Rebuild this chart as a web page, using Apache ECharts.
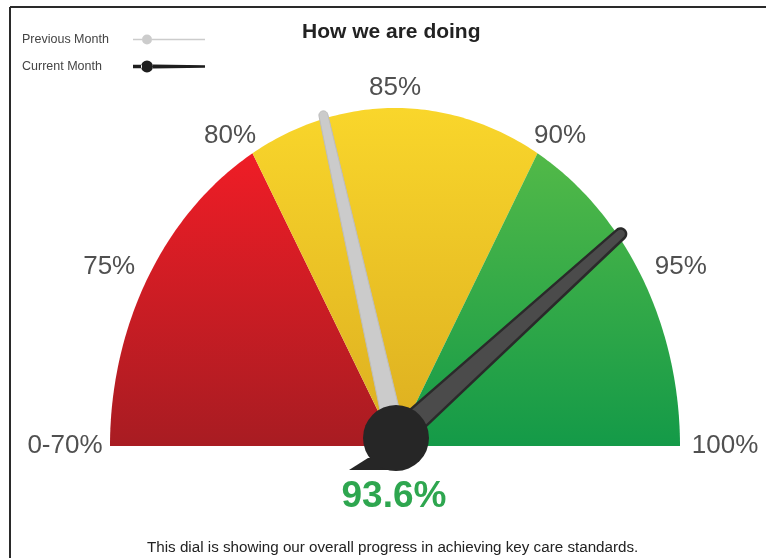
<!DOCTYPE html>
<html><head><meta charset="utf-8">
<script src="https://cdn.jsdelivr.net/npm/echarts@6/dist/echarts.min.js"></script>
<style>html,body{margin:0;padding:0;background:#fff}#c{width:766px;height:558px}</style>
</head><body><div id="c"></div>
<script>
// ---- data ----
const scaleMin = 70, scaleMax = 100;
const bandRanges = [[70, 80], [80, 90], [90, 100]];
const tickValues = [70, 75, 80, 85, 90, 95, 100];
const tickLabels = ['0-70%', '75%', '80%', '85%', '90%', '95%', '100%'];
const previousMonth = 82.6;
const currentMonth = 93.6;
const seriesNames = ['Previous Month', 'Current Month'];
const titleText = 'How we are doing';
const footerText = 'This dial is showing our overall progress in achieving key care standards.';

// ---- styles ----
const FONT = 'Liberation Sans, Arial, sans-serif';
const bandStops = [
  ['#ef1d26', '#a81c22'],
  ['#f9d62b', '#dcae20'],
  ['#52b948', '#149a48']
];
const G = echarts.graphic;
const grads = bandStops.map(s => new G.LinearGradient(0, 0, 0, 1, [{offset: 0, color: s[0]}, {offset: 1, color: s[1]}]));

function ang(v) { return Math.PI * (scaleMax - v) / (scaleMax - scaleMin); }
function pivotOf(api) { const c = api.coord([0, 0]); return [c[0] + 1, c[1] - 8]; }

function renderBand(params, api) {
  const a = api.value(0), b = api.value(1);
  const pts = [api.coord([0, 0])];
  const n = 80;
  for (let i = 0; i <= n; i++) {
    const t = ang(a + (b - a) * i / n);
    pts.push(api.coord([Math.cos(t), Math.sin(t)]));
  }
  return {type: 'polygon', shape: {points: pts}, style: {fill: grads[params.dataIndex], stroke: null}};
}

function needlePoints(api, v, w0, w1) {
  const t = ang(v);
  const p = pivotOf(api);
  const tip = api.coord([1.01 * Math.cos(t), 1.01 * Math.sin(t)]);
  const dx = tip[0] - p[0], dy = tip[1] - p[1];
  const L = Math.hypot(dx, dy), ux = dx / L, uy = dy / L, nx = -uy, ny = ux;
  const r0 = w0 / 2, r1 = w1 / 2;
  const pts = [[p[0] + nx * r0, p[1] + ny * r0], [tip[0] + nx * r1, tip[1] + ny * r1]];
  const base = Math.atan2(ny, nx);
  const steps = 14;
  const cross = nx * uy - ny * ux;
  const sgn = cross > 0 ? 1 : -1;
  for (let i = 1; i < steps; i++) {
    const th = base + sgn * Math.PI * i / steps;
    pts.push([tip[0] + Math.cos(th) * r1, tip[1] + Math.sin(th) * r1]);
  }
  pts.push([tip[0] - nx * r1, tip[1] - ny * r1]);
  pts.push([p[0] - nx * r0, p[1] - ny * r0]);
  return pts;
}

function renderPrev(params, api) {
  return {type: 'polygon', shape: {points: needlePoints(api, api.value(0), 20, 9)},
    style: {fill: '#cbcbcb', stroke: '#bdbdbd', lineWidth: 1}};
}

function renderCurr(params, api) {
  const p = pivotOf(api);
  const c = api.coord([0, 0]);
  return {type: 'group', children: [
    {type: 'polygon', shape: {points: needlePoints(api, api.value(0), 24, 11)},
      style: {fill: '#4b4b4b', stroke: '#2a2a2a', lineWidth: 2.5}},
    {type: 'polygon', shape: {points: [[p[0] - 47, c[1] + 24], [p[0] - 28, c[1] + 12], [p[0], c[1] + 12], [p[0], c[1] + 24]]},
      style: {fill: '#262626'}},
    {type: 'circle', shape: {cx: p[0], cy: p[1], r: 33}, style: {fill: '#262626'}},
    {type: 'text', style: {x: p[0] - 2, y: c[1] + 51, text: api.value(0) + '%', fill: '#2ea64f',
      font: 'bold 37px ' + FONT, align: 'center', verticalAlign: 'middle'}}
  ]};
}

function renderTick(params, api) {
  const t = ang(api.value(0));
  const pt = api.coord([1.158 * Math.cos(t), 1.059 * Math.sin(t)]);
  return {type: 'text', style: {x: pt[0], y: pt[1], text: tickLabels[params.dataIndex], fill: '#505050',
    font: '26px ' + FONT, align: 'center', verticalAlign: 'middle'}};
}

const legendIconPrev = 'path://M0,5.2 L9,5.2 L9,6.8 L0,6.8 Z M19,5.2 L72,5.2 L72,6.8 L19,6.8 Z M9,6 a5,5 0 1,0 10,0 a5,5 0 1,0 -10,0 Z';
const legendIconCurr = 'path://M0,4.3 L9,4.3 L9,7.7 L0,7.7 Z M20,4.0 L72,4.7 L72,7.3 L20,8.0 Z M8,6 a6,6 0 1,0 12,0 a6,6 0 1,0 -12,0 Z';

const option = {
  animation: false,
  backgroundColor: '#fff',
  title: [
    {text: titleText, left: 297, top: 17, textStyle: {fontFamily: FONT, fontSize: 21, fontWeight: 'bold', color: '#222'}},
    {text: footerText, left: 142, top: 535, textStyle: {fontFamily: FONT, fontSize: 15.2, fontWeight: 'normal', color: '#222'}}
  ],
  legend: {
    orient: 'vertical', left: 17, top: 28, align: 'right', itemWidth: 72, itemHeight: 12, itemGap: 14,
    selectedMode: false,
    formatter: '{a|{name}}',
    textStyle: {fontFamily: FONT, fontSize: 12.5, color: '#444',
      rich: {a: {width: 106, align: 'left', fontFamily: FONT, fontSize: 12.5, color: '#444'}}},
    data: [
      {name: seriesNames[0], icon: legendIconPrev, itemStyle: {color: '#cccccc'}},
      {name: seriesNames[1], icon: legendIconCurr, itemStyle: {color: '#1e1e1e'}}
    ]
  },
  grid: {left: 110, top: 108, width: 570, height: 338},
  xAxis: {type: 'value', min: -1, max: 1, show: false},
  yAxis: {type: 'value', min: 0, max: 1, show: false},
  graphic: [
    {type: 'line', shape: {x1: 10, y1: 7, x2: 766, y2: 7}, style: {stroke: '#2a2a2a', lineWidth: 2}, silent: true},
    {type: 'line', shape: {x1: 10, y1: 7, x2: 10, y2: 558}, style: {stroke: '#2a2a2a', lineWidth: 2}, silent: true}
  ],
  series: [
    {type: 'custom', name: 'bands', renderItem: renderBand, data: bandRanges, clip: false, silent: true},
    {type: 'custom', name: 'ticks', renderItem: renderTick, data: tickValues.map(v => [v]), clip: false, silent: true},
    {type: 'custom', name: seriesNames[0], renderItem: renderPrev, data: [[previousMonth]], clip: false, itemStyle: {color: '#cccccc'}, z: 3},
    {type: 'custom', name: seriesNames[1], renderItem: renderCurr, data: [[currentMonth]], clip: false, itemStyle: {color: '#1e1e1e'}, z: 4}
  ]
};
echarts.init(document.getElementById('c')).setOption(option);
</script></body></html>
